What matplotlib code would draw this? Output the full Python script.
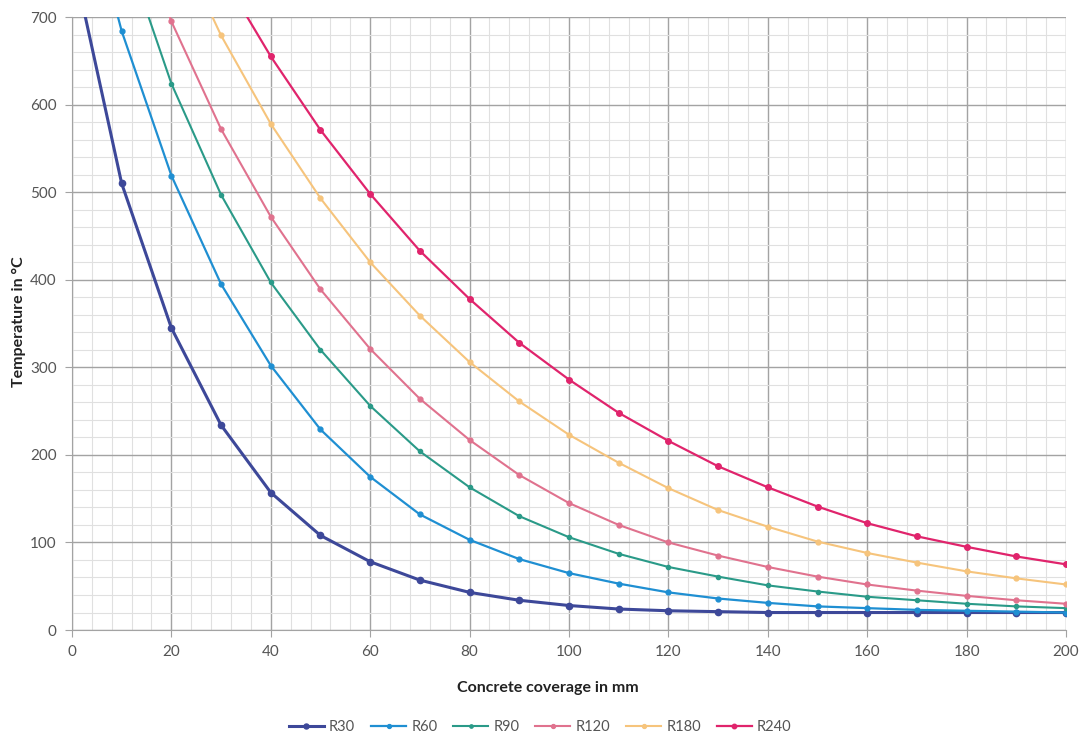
import numpy as np
import matplotlib
matplotlib.use('Agg')
import matplotlib.pyplot as plt
from matplotlib.ticker import MultipleLocator

plt.rcParams['font.family'] = ['Lato', 'DejaVu Sans']

# concrete coverage in mm
x = [0, 10, 20, 30, 40, 50, 60, 70, 80, 90, 100,
     110, 120, 130, 140, 150, 160, 170, 180, 190, 200]

r30 = [770, 510, 345, 234, 157, 108, 78, 57, 43, 34, 28,
       24, 22, 21, 20, 20, 20, 20, 20, 20, 20]
r60 = [900, 684, 519, 395, 302, 229, 175, 132, 103, 81, 65,
       53, 43, 36, 31, 27, 25, 23, 22, 21, 20]
r90 = [1000, 790, 624, 497, 397, 320, 256, 204, 163, 130, 106,
       87, 72, 61, 51, 44, 38, 34, 30, 27, 25]
r120 = [1030, 850, 695, 572, 472, 389, 321, 264, 217, 177, 145,
        120, 100, 85, 72, 61, 52, 45, 39, 34, 30]
r180 = [1080, 930, 800, 679, 578, 493, 420, 359, 306, 261, 223,
        191, 162, 137, 118, 101, 88, 77, 67, 59, 52]
r240 = [1110, 980, 860, 750, 655, 571, 498, 433, 378, 328, 286,
        248, 216, 187, 163, 141, 122, 107, 95, 84, 75]

series = [('R30', r30, '#3d4899', 2.2, 4.5),
          ('R60', r60, '#1f8fd2', 1.6, 3.5),
          ('R90', r90, '#2a9a88', 1.5, 3),
          ('R120', r120, '#e0728e', 1.5, 3.5),
          ('R180', r180, '#f6c47c', 1.5, 3.5),
          ('R240', r240, '#e0246c', 1.6, 4)]

fig = plt.figure(figsize=(10.87, 7.40), dpi=100)
ax = fig.add_axes([0.0662, 0.1486, 0.9145, 0.8284])

for name, vals, col, lw, ms in series:
    ax.plot(x, vals, color=col, lw=lw, marker='o', ms=ms, label=name, zorder=3)

ax.set_xlim(0, 200)
ax.set_ylim(0, 700)
ax.xaxis.set_major_locator(MultipleLocator(20))
ax.xaxis.set_minor_locator(MultipleLocator(4))
ax.yaxis.set_major_locator(MultipleLocator(100))
ax.yaxis.set_minor_locator(MultipleLocator(20))
ax.grid(which='major', color='#a3a3a3', lw=1.0)
ax.grid(which='minor', color='#e0e0e0', lw=0.8)
ax.set_axisbelow(True)

for s in ['top', 'right']:
    ax.spines[s].set_visible(False)
for s in ['left', 'bottom']:
    ax.spines[s].set_color('#a3a3a3')
ax.tick_params(which='major', length=5, color='#a3a3a3', labelsize=11,
               labelcolor='#555555', pad=6)
ax.tick_params(which='minor', length=0)

fig.text(0.504, 0.070, 'Concrete coverage in mm', fontsize=11.5, fontweight='bold',
         color='#222222', ha='center', va='center')
fig.text(0.017, 0.565, 'Temperature in °C', fontsize=11.5, fontweight='bold',
         color='#222222', ha='center', va='center', rotation=90)

fig.legend(loc='center', bbox_to_anchor=(0.497, 0.018), ncol=6, frameon=False,
           fontsize=10.5, handlelength=2.4, handletextpad=0.35, columnspacing=1.1,
           labelcolor='#555555', markerscale=0.8)

fig.savefig('out.png', dpi=100)
